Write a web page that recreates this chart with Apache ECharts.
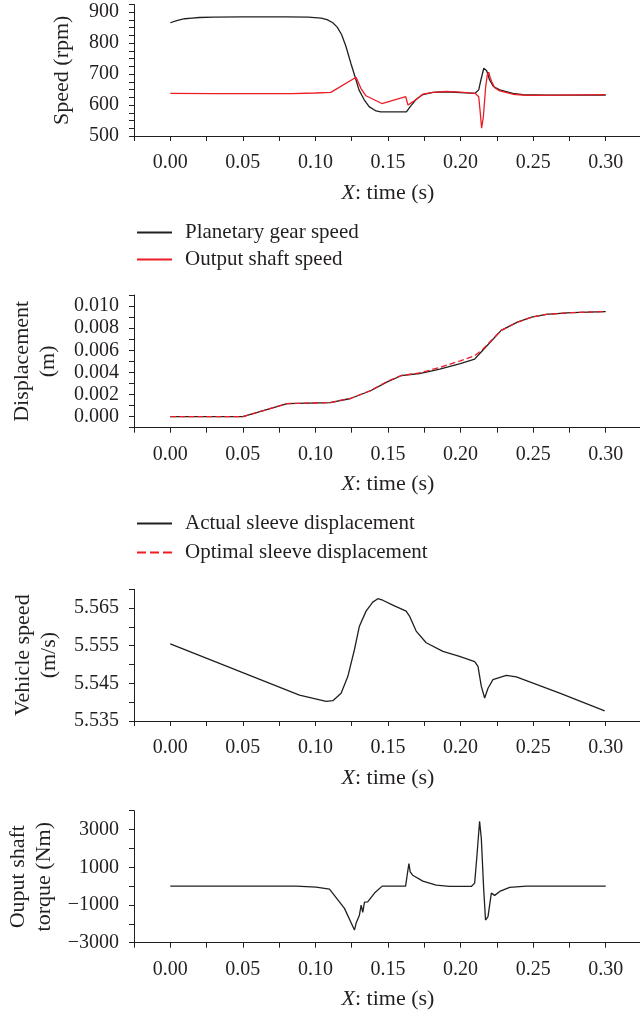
<!DOCTYPE html>
<html><head><meta charset="utf-8">
<script src="https://cdn.jsdelivr.net/npm/echarts@6/dist/echarts.min.js"></script>
<style>html,body{margin:0;padding:0;background:#fff}#c{width:640px;height:1012px}</style>
</head><body><div id="c"></div>
<script>
// ---- Panel 1: speed (rpm)
var gearT = [0, 0.005, 0.01, 0.015, 0.02, 0.03, 0.05, 0.08, 0.095, 0.104, 0.108, 0.112, 0.115, 0.118, 0.121, 0.1244, 0.1274, 0.130, 0.1336, 0.137, 0.1417, 0.145, 0.1627, 0.1653, 0.1696, 0.174, 0.181, 0.19, 0.2, 0.21, 0.2125, 0.214, 0.216, 0.218, 0.220, 0.2226, 0.227, 0.236, 0.243, 0.26, 0.3];
var gearV = [866, 874, 879, 881, 883, 884, 885, 885, 884, 881, 876, 866, 852, 828, 790, 735, 690, 649, 617, 595, 581, 578, 578, 595, 619, 634, 641, 643, 640, 638, 649, 681, 719, 711, 681, 660, 649, 638, 634, 632, 632];
var shaftT = [0, 0.03, 0.06, 0.084, 0.1, 0.1106, 0.128, 0.1313, 0.1348, 0.1458, 0.1622, 0.1638, 0.1673, 0.174, 0.181, 0.19, 0.2, 0.21, 0.2125, 0.2134, 0.2145, 0.2157, 0.2173, 0.2184, 0.2194, 0.2203, 0.2215, 0.2235, 0.227, 0.236, 0.245, 0.25, 0.3];
var shaftV = [638, 637, 637, 637, 639, 641, 690, 654, 630, 605, 627, 600, 611, 635, 641, 644, 642, 638, 627, 584, 525, 562, 660, 697, 706, 690, 675, 656, 646, 635, 631, 631, 634];
// ---- Panel 2: displacement (m)
var actualT = [0, 0.05, 0.0805, 0.1101, 0.1242, 0.138, 0.1495, 0.159, 0.1717, 0.1857, 0.1998, 0.2097, 0.2153, 0.228, 0.2392, 0.249, 0.259, 0.276, 0.30];
var actualV = [0, 0, 0.00118, 0.00127, 0.00164, 0.00234, 0.00315, 0.0037, 0.0039, 0.0043, 0.0048, 0.0052, 0.006, 0.0078, 0.00855, 0.009, 0.00925, 0.0094, 0.0095];
var optimalT = [0, 0.05, 0.0805, 0.1101, 0.1242, 0.138, 0.1495, 0.159, 0.1717, 0.1857, 0.1998, 0.2097, 0.2153, 0.228, 0.2392, 0.249, 0.259, 0.276, 0.30];
var optimalV = [0, 0, 0.00118, 0.00127, 0.00166, 0.00236, 0.00318, 0.00372, 0.00395, 0.00445, 0.00505, 0.0055, 0.0061, 0.0078, 0.00855, 0.009, 0.00925, 0.0094, 0.0095];
// ---- Panel 3: vehicle speed (m/s)
var vehT = [0, 0.089, 0.1074, 0.112, 0.1177, 0.1223, 0.1269, 0.1303, 0.1349, 0.1395, 0.143, 0.1464, 0.1533, 0.1625, 0.1648, 0.1694, 0.1763, 0.1878, 0.1993, 0.2097, 0.212, 0.2143, 0.2166, 0.2189, 0.2223, 0.2315, 0.2384, 0.2683, 0.2993];
var vehV = [5.5555, 5.5419, 5.5402, 5.5404, 5.5424, 5.5468, 5.554, 5.5602, 5.5642, 5.5666, 5.5675, 5.5671, 5.5658, 5.5642, 5.5629, 5.5589, 5.5558, 5.5535, 5.5522, 5.5508, 5.5495, 5.5442, 5.5411, 5.5437, 5.546, 5.5471, 5.5467, 5.5424, 5.5377];
// ---- Panel 4: output shaft torque (Nm)
var torqT = [0, 0.0867, 0.1005, 0.1097, 0.12, 0.1269, 0.128, 0.1303, 0.1315, 0.1326, 0.1338, 0.136, 0.1407, 0.146, 0.1621, 0.1644, 0.1653, 0.167, 0.174, 0.1832, 0.1924, 0.2074, 0.2097, 0.2113, 0.2131, 0.2143, 0.2159, 0.2172, 0.2189, 0.2212, 0.2235, 0.227, 0.2338, 0.2453, 0.30];
var torqV = [0, 0, -50, -160, -1180, -2330, -1970, -1540, -1005, -1390, -850, -830, -370, 0, 0, 1200, 760, 580, 265, 50, -16, -16, 160, 1640, 3440, 2520, -120, -1800, -1620, -370, -490, -280, -70, 0, 0];

var legend1 = ['Planetary gear speed', 'Output shaft speed'];
var legend2 = ['Actual sleeve displacement', 'Optimal sleeve displacement'];

function zip(a, b) { return a.map(function (x, i) { return [x, b[i]]; }); }

var INK = '#231f20', RED = '#ec1c24';
var FONT = 'Liberation Serif';
var FS = 20, NFS = 22, LFS = 21;
var tops = [4.5, 295, 589.3, 810.7];
var heights = [131.5, 132.7, 131.7, 132];

function isMult(v, step, base) {
  var r = (v - base) / step;
  return Math.abs(r - Math.round(r)) < 1e-6;
}
function xAxis(i) {
  return {
    type: 'value', gridIndex: i, min: -0.025, max: 0.325, interval: 0.025,
    axisLine: { onZero: false, lineStyle: { color: INK, width: 1 } },
    axisTick: { show: true, inside: false, length: 5, lineStyle: { color: INK } },
    splitLine: { show: false },
    axisLabel: {
      color: INK, fontFamily: FONT, fontSize: FS, margin: 17, showMinLabel: true, showMaxLabel: true, hideOverlap: false,
      formatter: function (v) { return (v > -1e-9 && v < 0.3 + 1e-9 && isMult(v, 0.05, 0)) ? v.toFixed(2) : ''; }
    },
    name: '{i|X}: time (s)', nameLocation: 'middle', nameGap: 46,
    nameTextStyle: { color: INK, fontFamily: FONT, fontSize: NFS, rich: { i: { fontStyle: 'italic', fontFamily: FONT, fontSize: NFS, color: INK } } }
  };
}
function yAxis(i, min, max, interval, labelStep, labelBase, labelMax, fmt, name, gap) {
  return {
    type: 'value', gridIndex: i, min: min, max: max, interval: interval,
    axisLine: { show: true, onZero: false, lineStyle: { color: INK, width: 1 } },
    axisTick: { show: true, inside: false, length: 5, lineStyle: { color: INK } },
    splitLine: { show: false },
    axisLabel: {
      color: INK, fontFamily: FONT, fontSize: FS, margin: 15, showMinLabel: true, showMaxLabel: true, hideOverlap: false,
      formatter: function (v) { return (v > labelBase - 1e-9 && v < labelMax + 1e-9 && isMult(v, labelStep, labelBase)) ? fmt(v) : ''; }
    },
    name: name, nameLocation: 'middle', nameGap: gap, nameRotate: 90,
    nameTextStyle: { color: INK, fontFamily: FONT, fontSize: NFS, lineHeight: 26 }
  };
}
function line(name, t, v, xi, color, dashed) {
  return {
    type: 'line', name: name, xAxisIndex: xi, yAxisIndex: xi, data: zip(t, v),
    symbol: 'none', showSymbol: false, smooth: false, animation: false,
    lineStyle: { color: color, width: 1.3, type: dashed ? [6, 3] : 'solid' },
    itemStyle: { color: color }
  };
}
function legend(data, top, gap) {
  return {
    data: data, orient: 'vertical', left: 136, top: top, padding: 0,
    itemWidth: 35, itemHeight: 20, itemGap: gap,
    itemStyle: { opacity: 0 },
    textStyle: { color: INK, fontFamily: FONT, fontSize: LFS, padding: [0, 0, 0, 8] },
    selectedMode: false
  };
}

var chart = echarts.init(document.getElementById('c'), null, { renderer: 'canvas' });
chart.setOption({
  backgroundColor: '#fff',
  animation: false,
  grid: tops.map(function (t, i) {
    return { left: 134, top: t, height: heights[i], width: 508, containLabel: false, outerBoundsMode: 'none' };
  }),
  xAxis: [xAxis(0), xAxis(1), xAxis(2), xAxis(3)],
  yAxis: [
    yAxis(0, 500, 925, 25, 100, 500, 900, function (v) { return String(Math.round(v)); }, 'Speed (rpm)', 59),
    yAxis(1, -0.001, 0.011, 0.001, 0.002, 0, 0.010, function (v) { return (Math.abs(v) < 1e-9 ? 0 : v).toFixed(3); }, 'Displacement\n(m)', 73),
    yAxis(2, 5.535, 5.570, 0.005, 0.010, 5.535, 5.565, function (v) { return v.toFixed(3); }, 'Vehicle speed\n(m/s)', 72),
    yAxis(3, -3000, 4000, 1000, 2000, -3000, 3000, function (v) { var r = Math.round(v); return r < 0 ? '\u2212' + (-r) : String(r); }, 'Ouput shaft\ntorque (Nm)', 75)
  ],
  legend: [
    legend(legend1, 222, 6),
    legend([legend2[0], { name: legend2[1], lineStyle: { type: [9, 4] } }], 513, 8)
  ],
  series: [
    line(legend1[0], gearT, gearV, 0, INK, false),
    line(legend1[1], shaftT, shaftV, 0, RED, false),
    line(legend2[0], actualT, actualV, 1, INK, false),
    line(legend2[1], optimalT, optimalV, 1, RED, true),
    line('Vehicle speed', vehT, vehV, 2, INK, false),
    line('Output shaft torque', torqT, torqV, 3, INK, false)
  ]
});
</script></body></html>
